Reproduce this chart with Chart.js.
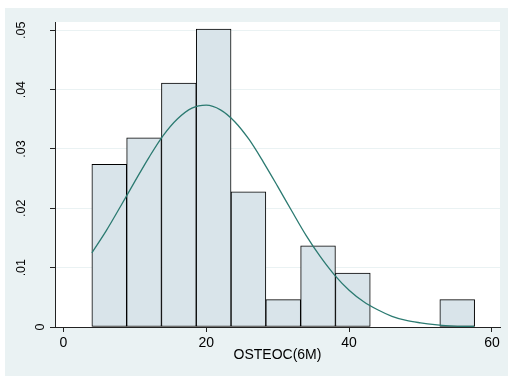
<!DOCTYPE html>
<html>
<head>
<meta charset="utf-8">
<script src="https://cdn.jsdelivr.net/npm/chart.js@4/dist/chart.umd.min.js"></script>
<style>
html, body { margin: 0; padding: 0; background: #fff; }
canvas { display: block; }
</style>
</head>
<body>
<canvas id="osteocChart" width="508" height="376"></canvas>
<script>
// histogram of OSTEOC(6M), 11 equal-width bins, density scale
const binEdges = [4.0, 8.87, 13.74, 18.61, 23.48, 28.35, 33.22, 38.09, 42.96, 47.83, 52.70, 57.57];
const binDensity = [0.0274, 0.0319, 0.0411, 0.0502, 0.0228, 0.0046, 0.0137, 0.0091, 0, 0, 0.0046];

// normal density overlay
const normalX = [4, 6, 8, 10, 12, 14, 16, 18, 20, 22, 24, 26, 28, 30, 32, 34, 36, 38, 40,
                 42, 44, 46, 48, 50, 52, 54, 56, 57.5];
const normalY = [0.0125, 0.0162, 0.0203, 0.0245, 0.0286, 0.0323, 0.0351, 0.0369, 0.0374,
                 0.0366, 0.0346, 0.0316, 0.0278, 0.0237, 0.0195, 0.0154, 0.0118, 0.0087,
                 0.0062, 0.0043, 0.0029, 0.0018, 0.0011, 0.0007, 0.0004, 0.0002, 0.0001, 0.0001];

const xTicks = [0, 20, 40, 60];
const yTicks = [0, 0.01, 0.02, 0.03, 0.04, 0.05];
const yTickLabels = ["0", ".01", ".02", ".03", ".04", ".05"];

const FONT = '"Liberation Sans", Arial, sans-serif';

const barPoints = binDensity
    .map((d, i) => ({ x: (binEdges[i] + binEdges[i + 1]) / 2, y: d }))
    .filter(p => p.y > 0);
const curvePoints = normalX.map((x, i) => ({ x: x, y: normalY[i] }));

// graph region + white plot region
const backdrop = {
    id: "backdrop",
    beforeDraw(chart) {
        const { ctx, chartArea: a } = chart;
        ctx.save();
        ctx.fillStyle = "#fff";
        ctx.fillRect(0, 0, chart.width, chart.height);
        ctx.fillStyle = "#eaf2f3";
        ctx.fillRect(5, 8, chart.width - 5, chart.height - 8);
        ctx.fillStyle = "#fff";
        ctx.fillRect(a.left, a.top, a.right - a.left, a.bottom - a.top);
        ctx.restore();
    }
};

// vertical y tick labels, shorter labels sit nearer the axis
const yLabels = {
    id: "yLabels",
    afterDraw(chart) {
        const ctx = chart.ctx;
        const scale = chart.scales.y;
        ctx.save();
        ctx.font = "12.5px " + FONT;
        ctx.fillStyle = "#000";
        ctx.textAlign = "center";
        ctx.textBaseline = "middle";
        const w0 = ctx.measureText("0").width;
        yTicks.forEach((v, i) => {
            const label = yTickLabels[i];
            const w = ctx.measureText(label).width;
            ctx.save();
            ctx.translate(40.5 - 1.85 * (w - w0), scale.getPixelForValue(v));
            ctx.rotate(-Math.PI / 2);
            ctx.fillText(label, 0, 0);
            ctx.restore();
        });
        ctx.restore();
    }
};

new Chart(document.getElementById("osteocChart"), {
    type: "bar",
    data: {
        datasets: [
            {
                type: "line",
                data: curvePoints,
                borderColor: "#2b7a71",
                borderWidth: 1.3,
                pointRadius: 0,
                fill: false,
                cubicInterpolationMode: "monotone",
                order: 0
            },
            {
                type: "bar",
                data: barPoints,
                backgroundColor: "#d9e4ea",
                borderColor: "#000",
                borderWidth: 1,
                borderSkipped: false,
                barPercentage: 1,
                categoryPercentage: 1,
                order: 1
            }
        ]
    },
    options: {
        responsive: false,
        animation: false,
        devicePixelRatio: 1,
        layout: { padding: { left: 0, top: 22, right: 8, bottom: 0 } },
        plugins: { legend: { display: false }, tooltip: { enabled: false } },
        scales: {
            x: {
                type: "linear",
                min: -1.16,
                max: 61.12,
                offset: false,
                afterBuildTicks: s => { s.ticks = xTicks.map(v => ({ value: v })); },
                afterFit: s => { s.height = 49; },
                grid: { offset: false, drawOnChartArea: false, drawTicks: true, tickLength: 5, tickColor: "#222" },
                border: { display: true, color: "#222", width: 1 },
                ticks: {
                    color: "#000",
                    font: { family: FONT, size: 14 },
                    padding: 3,
                    maxRotation: 0,
                    autoSkip: false,
                    callback: v => String(v)
                },
                title: {
                    display: true,
                    text: "OSTEOC(6M)",
                    color: "#000",
                    font: { family: FONT, size: 14 },
                    padding: { top: 0, bottom: 12 }
                }
            },
            y: {
                min: 0,
                max: 0.0514,
                afterBuildTicks: s => { s.ticks = yTicks.map(v => ({ value: v })); },
                afterFit: s => { s.width = 55; },
                grid: { color: "#eaf2f3", lineWidth: 1, drawTicks: true, tickLength: 5, tickColor: "#222" },
                border: { display: true, color: "#222", width: 1 },
                ticks: { display: false }
            }
        }
    },
    plugins: [backdrop, yLabels]
});
</script>
</body>
</html>
